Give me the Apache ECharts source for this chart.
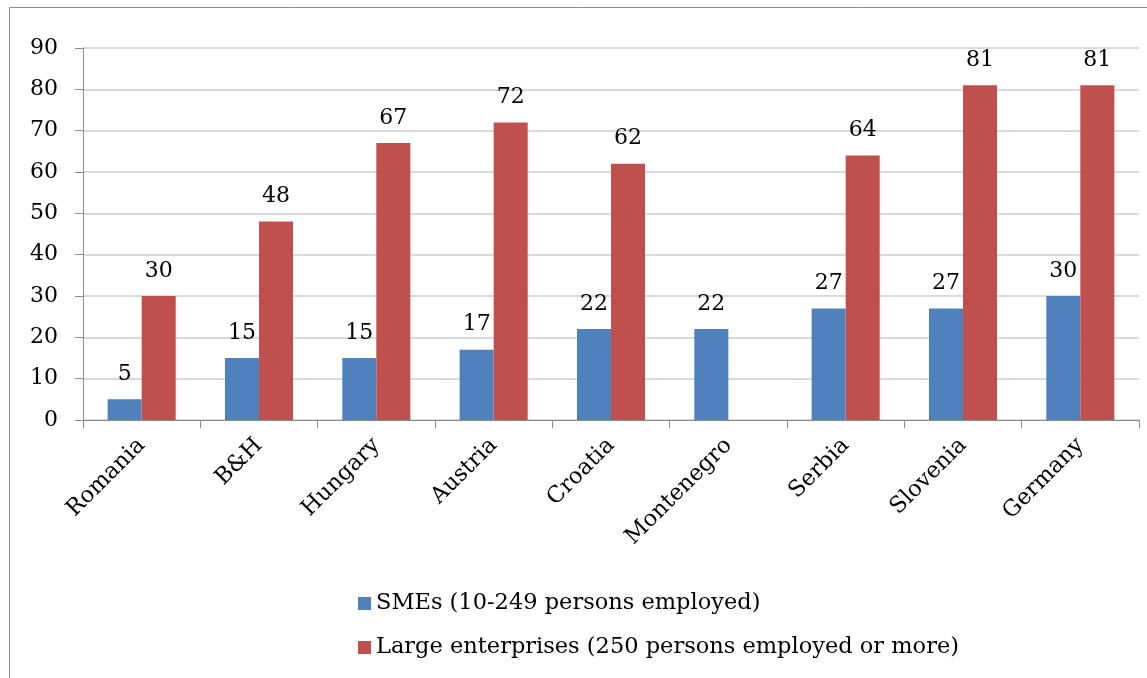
<!DOCTYPE html>
<html><head><meta charset="utf-8">
<script src="https://cdn.jsdelivr.net/npm/echarts@6/dist/echarts.min.js"></script>
<style>html,body{margin:0;padding:0;background:#fff}#c{width:1147px;height:678px}</style>
</head><body><div id="c"></div>
<script>
const categories = ['Romania','B&H','Hungary','Austria','Croatia','Montenegro','Serbia','Slovenia','Germany'];
const smes = [5,15,15,17,22,22,27,27,30];
const large = [30,48,67,72,62,null,64,81,81];
const seriesNames = ['SMEs (10-249 persons employed)','Large enterprises (250 persons employed or more)'];
const FONT = 'DejaVu Serif';
const chart = echarts.init(document.getElementById('c'), null, {renderer:'canvas'});
const lbl = {show:true, position:'top', distance:14, color:'#000', fontFamily:FONT, fontSize:22};
chart.setOption({
  animation:false,
  textStyle:{fontFamily:FONT},
  graphic:[{type:'rect', shape:{x:9.5,y:7.5,width:1200,height:700}, style:{fill:'none', stroke:'#8c8c8c', lineWidth:1}, z:-1}],
  grid:{left:83, right:8, top:48, bottom:258, containLabel:false},
  legend:{orient:'vertical', left:353, top:587, itemGap:21, itemWidth:13, itemHeight:13, icon:'rect',
    textStyle:{fontFamily:FONT, fontSize:22.5, color:'#000'}, data:seriesNames},
  xAxis:{type:'category', data:categories,
    axisLine:{lineStyle:{color:'#8c8c8c'}},
    axisTick:{show:true, length:8, lineStyle:{color:'#8c8c8c'}},
    axisLabel:{rotate:45, color:'#000', fontFamily:FONT, fontSize:22.5, margin:22}},
  yAxis:{type:'value', min:0, max:90, interval:10,
    axisLine:{show:true, lineStyle:{color:'#8c8c8c'}},
    axisTick:{show:true, length:8, lineStyle:{color:'#8c8c8c'}},
    splitLine:{lineStyle:{color:'#d9d9d9', width:2}},
    axisLabel:{color:'#000', fontFamily:FONT, fontSize:22, margin:25}},
  series:[
    {name:seriesNames[0], type:'bar', data:smes, barGap:'0%', barCategoryGap:'42%',
      itemStyle:{color:'#4F81BD'}, label:lbl},
    {name:seriesNames[1], type:'bar', data:large, barGap:'0%', barCategoryGap:'42%',
      itemStyle:{color:'#C0504D'}, label:lbl}
  ]
});
</script></body></html>
